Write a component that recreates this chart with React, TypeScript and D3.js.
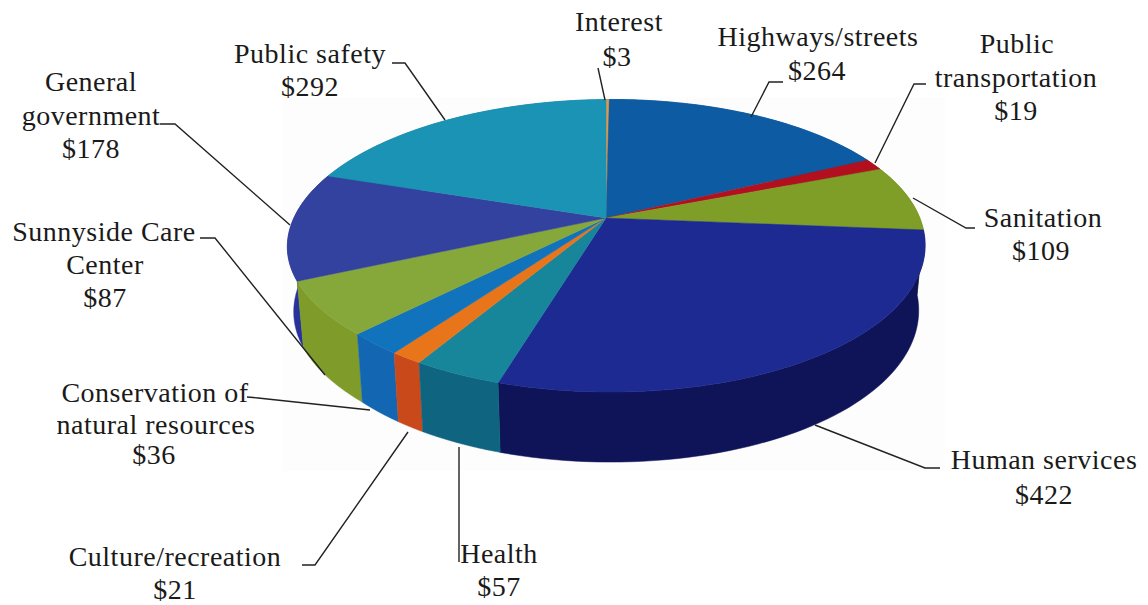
import React from "react";
import * as d3 from "d3";

const categories = ["Interest","Highways/streets","Public transportation","Sanitation","Human services","Health","Culture/recreation","Conservation of natural resources","Sunnyside Care Center","General government","Public safety"];
const values = [3,264,19,109,422,57,21,36,87,178,292];
const topColors = ["#dd9a4e","#0d5ca3","#b3101f","#7f9e27","#1c2a92","#17859a","#e8751a","#1173bb","#86a83b","#33429f","#1a93b5"];
const wallColors = ["#b87a30","#0a4a85","#8d0c18","#64801e","#0f1358","#0f6580","#c9491a","#1266b2","#7f9c2b","#27339a","#157a98"];

type Label = { lines: [string, number, number][]; leader: [number, number][] };
const labels: Label[] = [
  { lines: [["Interest",619,31],["$3",617,66]], leader: [[598,68],[605,100]] },
  { lines: [["Highways/streets",818,46],["$264",817,80]], leader: [[783,82],[769,82],[751,117]] },
  { lines: [["Public",1017,53],["transportation",1016,87],["$19",1016,120]], leader: [[926,84],[914,84],[875,163]] },
  { lines: [["Sanitation",1043,227],["$109",1041,260]], leader: [[975,228],[966,228],[913,198]] },
  { lines: [["Human services",1044,469],["$422",1044,504]], leader: [[940,468],[925,468],[815,425]] },
  { lines: [["Health",499,563],["$57",499,596]], leader: [[459,562],[459,447]] },
  { lines: [["Culture/recreation",175,566],["$21",175,599]], leader: [[302,565],[315,565],[408,432]] },
  { lines: [["Conservation of",155,402],["natural resources",156,434],["$36",154,464]], leader: [[247,397],[258,398],[370,410]] },
  { lines: [["Sunnyside Care",104,241],["Center",105,274],["$87",105,307]], leader: [[200,238],[215,238],[325,375]] },
  { lines: [["General",91,91],["government",91,125],["$178",91,158]], leader: [[160,124],[175,124],[290,225]] },
  { lines: [["Public safety",310,63],["$292",310,96]], leader: [[392,63],[405,63],[445,120]] },
];

const cx = 606, cy = 218, R = 313, A = 141, k = 0.19;
const project = (a: number): [number, number] => {
  const u = Math.sin(a), v = Math.cos(a), w = 1 + k * v;
  const frontSkew = v >= 0 ? 0 : u < 0 ? 8 * Math.pow(Math.min(1, -v / 0.7), 3) : 8 * v * v;
  return [cx + (R * u) / w + frontSkew, cy - (A * v) / w - 2 * u];
};
const projectBase = (a: number): [number, number] => {
  const [x, y] = project(a);
  return [cx + (x - cx) * 0.98, y + 64 - 6 * Math.cos(a)];
};
const sample = (a0: number, a1: number) =>
  d3.range(0, 61).map((i) => a0 + ((a1 - a0) * i) / 60);

export default function App() {
  const arcs = d3.pie<number>().sort(null).startAngle(0).endAngle(2 * Math.PI)(values);
  const line = d3.line();
  const rows = arcs.map((d, i) => {
    const angles = sample(d.startAngle, d.endAngle);
    const top = angles.map(project);
    const base = angles.map(projectBase).reverse();
    return {
      i,
      mid: (d.startAngle + d.endAngle) / 2,
      topPath: line([[cx, cy], ...top])! + "Z",
      wallPath: line([...top, ...base])! + "Z",
    };
  });
  const wallOrder = [...rows].sort((a, b) => Math.cos(b.mid) - Math.cos(a.mid));
  return (
    <svg width={1148} height={605} style={{ position: "absolute", left: 0, top: 0, background: "#fff" }}>
      <rect x={283} y={97} width={662} height={374} fill="#fdfdfd" />
      {wallOrder.map((r) => (
        <path key={"w" + r.i} d={r.wallPath} fill={wallColors[r.i]} stroke={wallColors[r.i]} strokeWidth={0.5} />
      ))}
      {rows.map((r) => (
        <path key={"t" + r.i} d={r.topPath} fill={topColors[r.i]} stroke={topColors[r.i]} strokeWidth={0.5} aria-label={categories[r.i]} />
      ))}
      {labels.map((l, i) => (
        <g key={i}>
          <path d={line(l.leader)!} fill="none" stroke="#222" strokeWidth={1.4} />
          {l.lines.map(([t, x, y]) => (
            <text key={t} x={x} y={y} textAnchor="middle" fontFamily="'Liberation Serif'" fontSize={28} letterSpacing={0.5} fill="#1a1a1a">{t}</text>
          ))}
        </g>
      ))}
    </svg>
  );
}
